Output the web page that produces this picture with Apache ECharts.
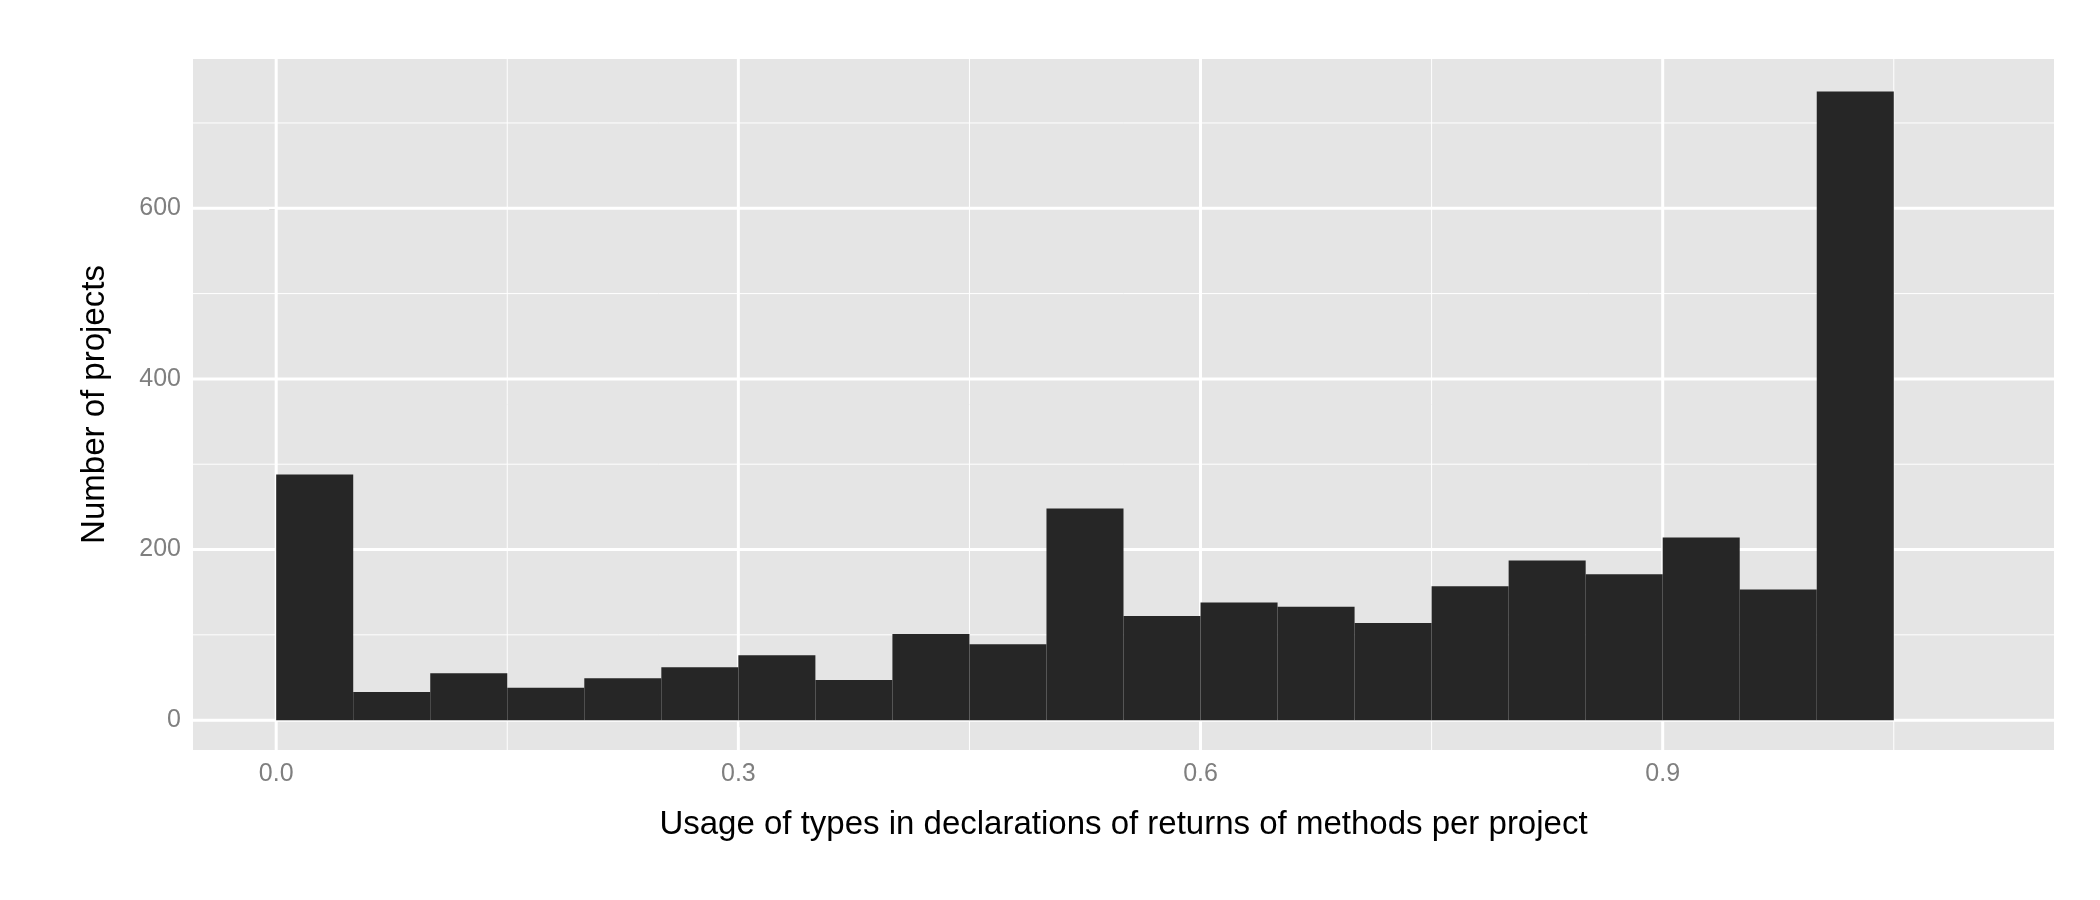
<!DOCTYPE html>
<html>
<head>
<meta charset="utf-8">
<script src="https://cdn.jsdelivr.net/npm/echarts@6/dist/echarts.min.js"></script>
<style>html,body{margin:0;background:#fff}#chart{width:2100px;height:900px}</style>
</head>
<body>
<div id="chart"></div>
<script>
const binStarts = [0.00,0.05,0.10,0.15,0.20,0.25,0.30,0.35,0.40,0.45,0.50,0.55,0.60,0.65,0.70,0.75,0.80,0.85,0.90,0.95,1.00];
const counts = [288,33,55,38,49,62,76,47,101,89,248,122,138,133,114,157,187,171,214,153,737];
const binWidth = 0.05;
const xTicks = [0, 0.3, 0.6, 0.9];
const xMinor = [0.15, 0.45, 0.75, 1.05];
const yTicks = [0, 200, 400, 600];
const yMinor = [100, 300, 500, 700];

const chart = echarts.init(document.getElementById("chart"));
const xMin = -0.054, xMax = 1.154, yMin = -35, yMax = 775;

function gridLine(vertical, width) {
  return (params, api) => {
    const v = api.value(0);
    const a = vertical ? api.coord([v, yMin]) : api.coord([xMin, v]);
    const b = vertical ? api.coord([v, yMax]) : api.coord([xMax, v]);
    return { type: "line", shape: { x1: a[0], y1: a[1], x2: b[0], y2: b[1] },
      style: { stroke: "#fff", lineWidth: width } };
  };
}

chart.setOption({
  animation: false,
  backgroundColor: "#fff",
  grid: { left: 193, right: 46, top: 59, bottom: 150, backgroundColor: "#e5e5e5", show: true, borderWidth: 0 },
  xAxis: {
    type: "value", min: xMin, max: xMax,
    name: "Usage of types in declarations of returns of methods per project",
    nameLocation: "middle", nameGap: 58,
    nameTextStyle: { color: "#000", fontSize: 33, fontFamily: "Liberation Sans" },
    axisLine: { show: false }, splitLine: { show: false },
    axisTick: { show: true, customValues: xTicks, length: 7, lineStyle: { color: "#7f7f7f", width: 2 } },
    axisLabel: { customValues: xTicks, color: "#7f7f7f", fontSize: 25, fontFamily: "Liberation Sans", margin: 12,
      formatter: (v) => v.toFixed(1) },
  },
  yAxis: {
    type: "value", min: yMin, max: yMax,
    name: "Number of projects", nameLocation: "middle", nameGap: 82,
    nameTextStyle: { color: "#000", fontSize: 33, fontFamily: "Liberation Sans" },
    axisLine: { show: false }, splitLine: { show: false },
    axisTick: { show: true, customValues: yTicks, length: 7, lineStyle: { color: "#7f7f7f", width: 2 } },
    axisLabel: { customValues: yTicks, color: "#7f7f7f", fontSize: 25, fontFamily: "Liberation Sans", margin: 12 },
  },
  series: [
    { type: "custom", data: xMinor.map((v) => [v]), renderItem: gridLine(true, 1), silent: true },
    { type: "custom", data: yMinor.map((v) => [v]), renderItem: gridLine(false, 1), silent: true },
    { type: "custom", data: xTicks.map((v) => [v]), renderItem: gridLine(true, 3), silent: true },
    { type: "custom", data: yTicks.map((v) => [v]), renderItem: gridLine(false, 3), silent: true },
    {
      type: "custom",
      data: binStarts.map((x, i) => [x, counts[i]]),
      renderItem: (params, api) => {
        const p0 = api.coord([api.value(0), 0]);
        const p1 = api.coord([api.value(0) + binWidth, api.value(1)]);
        return { type: "rect", shape: { x: p0[0], y: p1[1], width: p1[0] - p0[0], height: p0[1] - p1[1] },
          style: { fill: "#262626" } };
      },
    },
  ],
});
</script>
</body>
</html>
